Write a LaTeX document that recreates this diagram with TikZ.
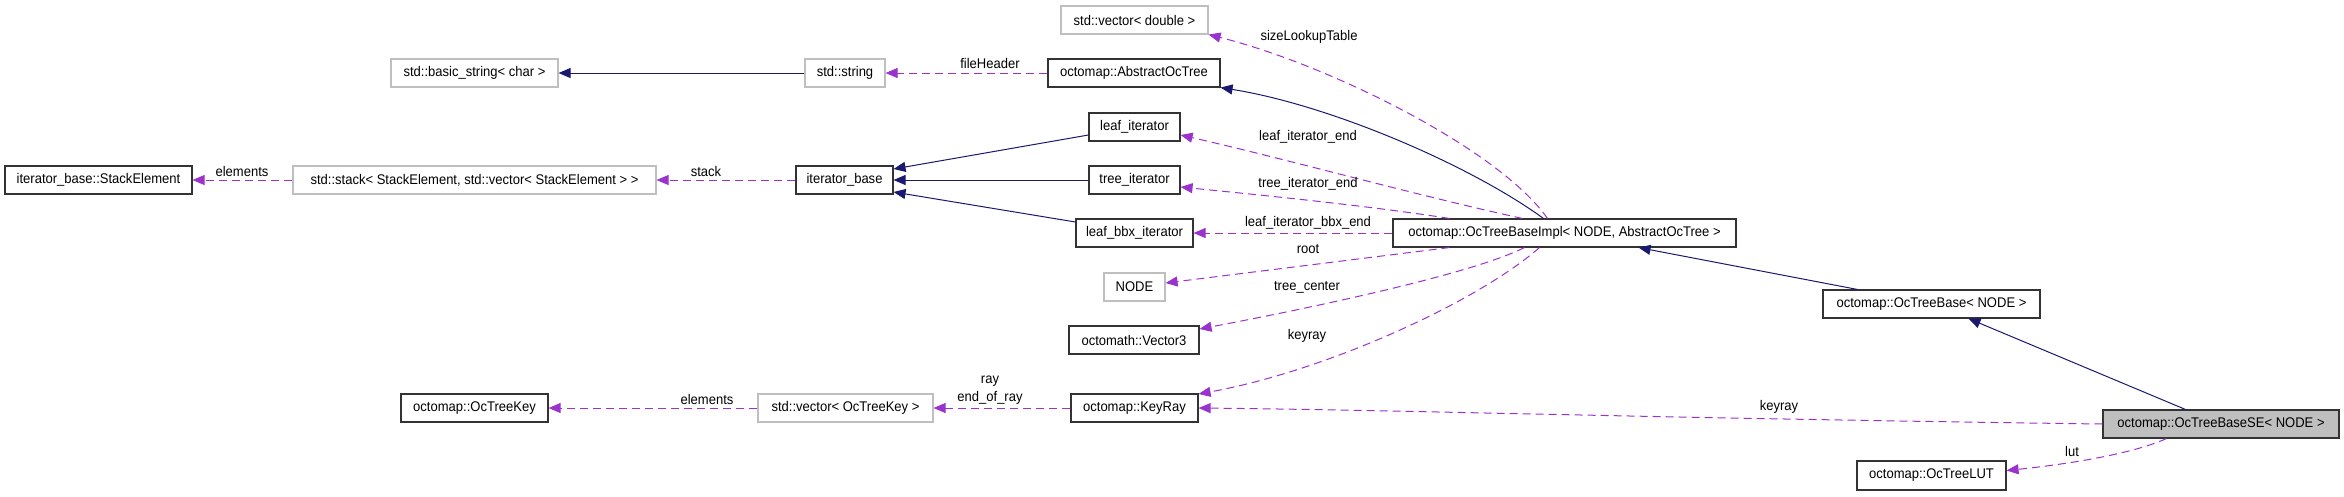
\documentclass[tikz,border=0pt]{standalone}
\usepackage{fontspec}
\setmainfont{Liberation Sans}[FakeStretch=0.93]
\usetikzlibrary{arrows.meta}
\definecolor{navy}{HTML}{191970}
\definecolor{orchid}{HTML}{9A32CD}
\definecolor{ugray}{HTML}{BFBFBF}
\definecolor{bord}{HTML}{333333}
\begin{document}
\begin{tikzpicture}[x=1pt,y=-1pt,
  every node/.style={font=\fontsize{14pt}{18pt}\selectfont},
  cls/.style={draw=bord, line width=1.1pt, minimum height=28pt, inner sep=0pt, fill=white},
  ucls/.style={cls, draw=ugray},
  inh/.style={draw=navy, line width=1pt, -{Triangle[length=12pt,width=10pt]}},
  use/.style={draw=orchid, line width=1pt, dash pattern=on 8pt off 5pt, -{Triangle[length=12pt,width=10pt]}},
  lbl/.style={inner sep=0pt, align=center}
]
\useasboundingbox (0,0) rectangle (2344,496);
% nodes
\node[ucls, minimum width=167pt] (basic) at (474.5,73) {std::basic\_string< char >};
\node[ucls, minimum width=80pt] (stdstring) at (845,73) {std::string};
\node[cls, minimum width=172pt] (abstract) at (1134,73) {octomap::AbstractOcTree};
\node[ucls, minimum width=147pt] (vecdouble) at (1134.5,20) {std::vector< double >};
\node[cls, minimum width=187pt] (stackelem) at (98.5,180) {iterator\_base::StackElement};
\node[ucls, minimum width=363pt] (stack) at (474.5,180) {std::stack< StackElement, std::vector< StackElement > >};
\node[cls, minimum width=97pt] (itbase) at (844.5,180) {iterator\_base};
\node[cls, minimum width=91pt] (leafit) at (1134.5,127) {leaf\_iterator};
\node[cls, minimum width=91pt] (treeit) at (1134.5,180) {tree\_iterator};
\node[cls, minimum width=117pt] (leafbbx) at (1134.5,233) {leaf\_bbx\_iterator};
\node[cls, minimum width=343pt] (impl) at (1564.5,233) {octomap::OcTreeBaseImpl< NODE, AbstractOcTree >};
\node[ucls, minimum width=61pt] (nodecls) at (1134.5,287) {NODE};
\node[cls, minimum width=130pt] (vec3) at (1134,340) {octomath::Vector3};
\node[cls, minimum width=127pt] (keyray) at (1134.5,408) {octomap::KeyRay};
\node[ucls, minimum width=175pt] (veckey) at (845.5,408) {std::vector< OcTreeKey >};
\node[cls, minimum width=147pt] (ockey) at (474.5,408) {octomap::OcTreeKey};
\node[cls, minimum width=217pt] (base) at (1931.5,304) {octomap::OcTreeBase< NODE >};
\node[cls, minimum width=236pt, fill=ugray] (se) at (2221,424) {octomap::OcTreeBaseSE< NODE >};
\node[cls, minimum width=149pt, minimum height=29pt] (lut) at (1931.5,475.5) {octomap::OcTreeLUT};
% edges
\draw[inh] (stdstring) -- (basic);
\draw[use] (abstract) -- (stdstring);
\draw[use] (stack) -- (stackelem);
\draw[use] (itbase) -- (stack);
\draw[inh] ([yshift=-8pt]leafit.west) -- ([yshift=11pt]itbase.east);
\draw[inh] (treeit) -- (itbase);
\draw[inh] ([yshift=11pt]leafbbx.west) -- ([yshift=-12pt]itbase.east);
\draw[inh] ([xshift=151pt]impl.north west) .. controls (1470,165) and (1330,105) .. (abstract.south east);
\draw[use] ([xshift=155pt]impl.north west) .. controls (1500,150) and (1330,65) .. (vecdouble.south east);
\draw[use] ([xshift=130pt]impl.north west) .. controls (1415,195) and (1290,160) .. ([yshift=-8pt]leafit.east);
\draw[use] ([xshift=57pt]impl.north west) .. controls (1370,206) and (1270,196) .. ([yshift=-7pt]treeit.east);
\draw[use] (impl) -- (leafbbx);
\draw[use] ([xshift=57pt]impl.south west) -- ([yshift=4pt]nodecls.east);
\draw[use] ([xshift=132pt]impl.south west) .. controls (1470,275) and (1300,310) .. ([yshift=11pt]vec3.east);
\draw[use] ([xshift=147pt]impl.south west) .. controls (1480,300) and (1330,370) .. ([yshift=14pt]keyray.east);
\draw[inh] ([xshift=35pt]base.north west) -- ([xshift=-98pt]impl.south east);
\draw[inh] ([xshift=83pt]se.north west) -- ([xshift=37pt]base.south);
\draw[use] (se.west) .. controls (1650,418) and (1400,410) .. (keyray.east);
\draw[use] ([xshift=64pt]se.south west) .. controls (2130,455) and (2060,465) .. ([yshift=5pt]lut.east);
\draw[use] (keyray) -- (veckey);
\draw[use] (veckey) -- (ockey);
% labels
\node[lbl] (l1) at (990,63) {fileHeader};
\node[lbl] (l2) at (242,171) {elements};
\node[lbl] (l3) at (706,171) {stack};
\node[lbl] (l4) at (1309,37) {sizeLookupTable};
\node[lbl] (l5) at (1308,137) {leaf\_iterator\_end};
\node[lbl] (l6) at (1308,184) {tree\_iterator\_end};
\node[lbl] (l7) at (1308,223) {leaf\_iterator\_bbx\_end};
\node[lbl] (l8) at (1308,249) {root};
\node[lbl] (l9) at (1307,287) {tree\_center};
\node[lbl] (l10) at (1307,336) {keyray};
\node[lbl] (l11) at (1779,407) {keyray};
\node[lbl] (l12) at (2072,451) {lut};
\node[lbl] (l13) at (707,399) {elements};
\node[lbl] (l14) at (990,390) {ray\\end\_of\_ray};
\end{tikzpicture}
\end{document}
